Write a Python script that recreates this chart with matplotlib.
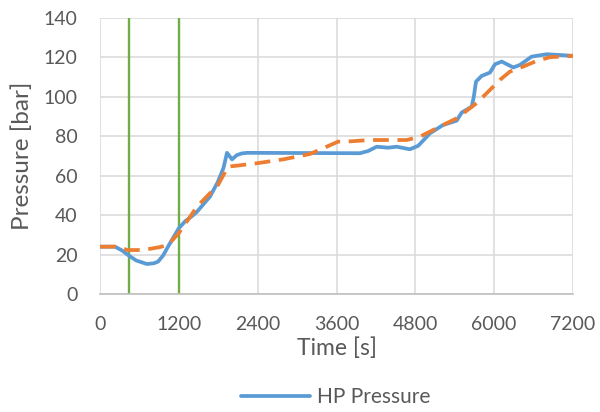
import matplotlib
matplotlib.use("Agg")
import matplotlib.pyplot as plt
import numpy as np

plt.rcParams['font.family'] = ['Lato', 'DejaVu Sans']

hp_time = [0, 228, 340, 426, 550, 715, 820, 883, 960, 1035, 1200, 1300, 1400, 1476, 1674,
           1796, 1880, 1933, 2009, 2085, 2160, 2237,
           3957, 4080, 4211, 4385, 4515, 4718, 4845, 5023, 5221, 5429, 5505, 5657, 5690, 5723,
           5809, 5936, 6012, 6114, 6291, 6393, 6570, 6799, 7154, 7200]
hp_pressure = [24, 24, 22, 19.8, 17, 15.2, 15.6, 16.4, 19.5, 24, 33.4, 37, 39.5, 41.7, 49.4,
               57, 64, 71.6, 68.3, 70.5, 71.3, 71.6,
               71.4, 72.5, 74.7, 74.2, 74.7, 73.4, 75.2, 81.5, 85.7, 87.9, 92, 95, 100, 107.7,
               110.6, 112.3, 116.5, 117.9, 114.9, 116.2, 120.4, 121.6, 120.9, 120.8]

sim_time = [0, 228, 426, 654, 913, 1035, 1200, 1476, 1796, 1948, 2085, 2385, 2790, 3196,
            3627, 3754, 4110, 4668, 4870, 5221, 5429, 5733, 5936, 6088, 6240, 6438, 6646,
            6849, 7200]
sim_pressure = [24, 24, 22.3, 22.3, 23.8, 24.9, 30.9, 44.3, 55.3, 64.6, 65.1, 66.3, 68.3, 71,
                77.3, 77.3, 78.1, 78.1, 79.8, 85.7, 89.1, 96.8, 103.5, 108.6, 112.8, 115.3,
                118.2, 120.1, 120.8]

markers_time = [440, 1200]

x_ticks = [0, 1200, 2400, 3600, 4800, 6000, 7200]
y_ticks = [0, 20, 40, 60, 80, 100, 120, 140]

fig = plt.figure(figsize=(6, 4.12), dpi=100)
ax = fig.add_axes([0.1667, 0.2864, 0.7883, 0.67])

for t in markers_time:
    ax.axvline(t, color='#70AD47', lw=1.7, zorder=2)
ax.plot(hp_time, hp_pressure, color='#5B9BD5', lw=2.7, label='HP Pressure', zorder=3,
        solid_joinstyle='round', solid_capstyle='round')
ax.plot(sim_time, sim_pressure, color='#ED7D31', lw=2.7, ls=(0, (4.2, 2.3)), zorder=4)

ax.set_xlim(0, 7200)
ax.set_ylim(0, 140)
ax.set_xticks(x_ticks)
ax.set_yticks(y_ticks)
ax.grid(True, color='#D9D9D9', lw=1.1)
ax.set_axisbelow(True)
for s in ['top', 'right', 'left']:
    ax.spines[s].set_visible(False)
ax.spines['bottom'].set_color('#BFBFBF')
ax.spines['bottom'].set_linewidth(1.2)
ax.tick_params(axis='x', length=0, labelsize=14, labelcolor='#595959', pad=16)
ax.tick_params(axis='y', length=0, labelsize=14, labelcolor='#595959', pad=16)
ax.set_xlabel('Time [s]', fontsize=16.5, color='#595959', va='center')
ax.xaxis.set_label_coords(0.5, (294 - 348) / 276)
ax.set_ylabel('Pressure [bar]', fontsize=17.5, color='#595959', va='center')
ax.yaxis.set_label_coords((22 - 100) / 473, 0.5)

fig.legend(handles=[ax.lines[-2]], labels=['HP Pressure'], loc='center',
           bbox_to_anchor=(336 / 600, 1 - 397 / 412), frameon=False, fontsize=15,
           labelcolor='#595959', handlelength=3.3, handletextpad=0.35)

fig.savefig('out.png', dpi=100)
